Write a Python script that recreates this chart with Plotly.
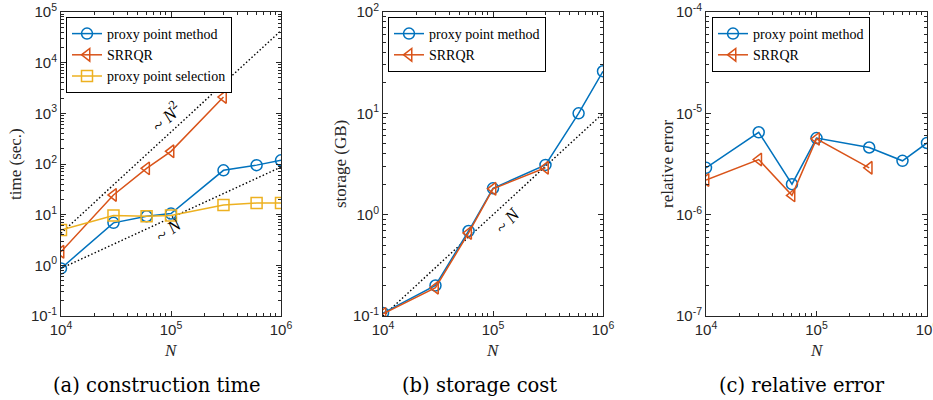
import plotly.graph_objects as go

# ---------------- data ----------------
N_all = [1e4, 3e4, 6e4, 1e5, 3e5, 6e5, 1e6]
N_srrqr = [1e4, 3e4, 6e4, 1e5, 3e5]

time_proxy = [0.87, 6.9, 9.3, 10.5, 75, 95, 118]
time_srrqr = [1.85, 24.5, 82, 178, 2100]
time_select = [5.0, 9.6, 9.3, 9.6, 15.5, 17, 17]

storage_proxy = [0.107, 0.20, 0.69, 1.82, 3.1, 10, 26]
storage_srrqr = [0.105, 0.19, 0.66, 1.80, 2.9]

err_proxy = [2.9e-6, 6.5e-6, 2.0e-6, 5.7e-6, 4.6e-6, 3.4e-6, 5.1e-6]
err_srrqr = [2.2e-6, 3.5e-6, 1.55e-6, 5.6e-6, 2.9e-6]

ref_N = [1e4, 1e6]
ref_time_N2 = [4.3, 4.3e4]
ref_time_N = [0.87, 87]
ref_storage_N = [0.1, 10]

captions = ["(a) construction time", "(b) storage cost", "(c) relative error"]
ylabels = ["time (sec.)", "storage (GB)", "relative error"]
x_exps = [4, 5, 6]
y_exps = [[-1, 0, 1, 2, 3, 4, 5], [-1, 0, 1, 2], [-7, -6, -5, -4]]
# --------------------------------------

BLUE = "#0072BD"
ORANGE = "#D95319"
YELLOW = "#EDB120"
AX = "#262626"
SERIF = "DejaVu Serif"
LSERIF = "Liberation Serif"
SANS = "Liberation Sans"

W, H = 933, 400
T, B = 12, 84
PH = H - T - B

fig = go.Figure()

xdomains = [(61 / W, 281 / W), (383 / W, 603 / W), (706 / W, 927 / W)]
caption_x = [157, 479, 802]


def add(x, y, name, color, symbol, axis, legend):
    fig.add_trace(go.Scatter(
        x=x, y=y, name=name, mode="lines+markers",
        line=dict(color=color, width=1.5),
        marker=dict(symbol=symbol, size=11, color=color,
                    line=dict(color=color, width=1.5)),
        xaxis="x" + axis, yaxis="y" + axis, legend=legend))


def ref(x, y, axis):
    fig.add_trace(go.Scatter(
        x=x, y=y, mode="lines", line=dict(color="black", width=1.4, dash="1.5px,2.2px"),
        xaxis="x" + axis, yaxis="y" + axis, showlegend=False, hoverinfo="skip"))


ref(ref_N, ref_time_N2, "")
ref(ref_N, ref_time_N, "")
add(N_all, time_proxy, "proxy point method", BLUE, "circle-open", "", "legend")
add(N_srrqr, time_srrqr, "SRRQR", ORANGE, "triangle-left-open", "", "legend")
add(N_all, time_select, "proxy point selection", YELLOW, "square-open", "", "legend")

ref(ref_N, ref_storage_N, "2")
add(N_all, storage_proxy, "proxy point method", BLUE, "circle-open", "2", "legend2")
add(N_srrqr, storage_srrqr, "SRRQR", ORANGE, "triangle-left-open", "2", "legend2")

add(N_all, err_proxy, "proxy point method", BLUE, "circle-open", "3", "legend3")
add(N_srrqr, err_srrqr, "SRRQR", ORANGE, "triangle-left-open", "3", "legend3")


def decade_ticks(exps):
    vals = [10.0 ** e for e in exps]
    text = ["10<sup>%d</sup>" % e for e in exps]
    minor = [m * 10.0 ** e for e in exps[:-1] for m in range(2, 10)]
    return vals, text, minor


axcommon = dict(
    type="log", showline=True, linecolor=AX, linewidth=1, mirror="allticks",
    ticks="inside", ticklen=5, tickcolor=AX, tickwidth=1, showgrid=False,
    zeroline=False, automargin=False, tickmode="array",
    tickfont=dict(family=SANS, size=15, color=AX),
)

layout = dict(
    width=W, height=H, margin=dict(l=0, r=0, t=T, b=B),
    plot_bgcolor="white", paper_bgcolor="white", showlegend=True,
)
for i, suf in enumerate(["", "2", "3"]):
    xv, xt, xm = decade_ticks(x_exps)
    yv, yt, ym = decade_ticks(y_exps[i])
    xa = dict(axcommon, domain=list(xdomains[i]), range=[4, 6],
              anchor="y" + suf, tickvals=xv, ticktext=xt,
              ticklabeloverflow="allow",
              minor=dict(ticks="inside", ticklen=3, tickcolor=AX, tickmode="array",
                         tickvals=xm, showgrid=False))
    ya = dict(axcommon, domain=[0, 1], range=[y_exps[i][0], y_exps[i][-1]],
              anchor="x" + suf, tickvals=yv, ticktext=yt,
              minor=dict(ticks="inside", ticklen=3, tickcolor=AX, tickmode="array",
                         tickvals=ym, showgrid=False))
    layout["xaxis" + suf] = xa
    layout["yaxis" + suf] = ya

leg = dict(bgcolor="white", bordercolor="black", borderwidth=1,
           font=dict(family=LSERIF, size=14, color="black"),
           xref="paper", yref="paper", xanchor="left", yanchor="top",
           tracegroupgap=0, itemwidth=30)
layout["legend"] = dict(leg, x=66 / W, y=(PH - 5) / PH)
layout["legend2"] = dict(leg, x=388 / W, y=(PH - 5) / PH)
layout["legend3"] = dict(leg, x=712 / W, y=(PH - 5) / PH)

fig.update_layout(**layout)

anns = []
ycap = (T + PH - 385) / PH
yN = (T + PH - 350) / PH
ylab_x = [15, 340, 667]
for i in range(3):
    cx = (xdomains[i][0] + xdomains[i][1]) / 2
    anns.append(dict(text=captions[i], x=caption_x[i] / W, y=ycap, xref="paper", yref="paper",
                     xanchor="center", yanchor="middle",
                     showarrow=False, font=dict(family=SERIF, size=19.5, color="black")))
    anns.append(dict(text="<i>N</i>", x=cx, y=yN, xref="paper", yref="paper",
                     xanchor="center", yanchor="middle",
                     showarrow=False, font=dict(family=LSERIF, size=17, color=AX)))
    anns.append(dict(text=ylabels[i], x=ylab_x[i] / W, y=0.5, xref="paper", yref="paper",
                     xanchor="center", yanchor="middle",
                     textangle=-90, showarrow=False,
                     font=dict(family=LSERIF, size=17, color=AX)))

anns.append(dict(text="~ <i>N</i><sup>2</sup>", x=4.96, y=2.93, xref="x", yref="y",
                 textangle=-42, showarrow=False, font=dict(family=LSERIF, size=18, color="black")))
anns.append(dict(text="~ <i>N</i>", x=4.98, y=0.70, xref="x", yref="y",
                 textangle=-36, showarrow=False, font=dict(family=LSERIF, size=18, color="black")))
anns.append(dict(text="~ <i>N</i>", x=5.13, y=-0.06, xref="x2", yref="y2",
                 textangle=-48, showarrow=False, font=dict(family=LSERIF, size=18, color="black")))
fig.update_layout(annotations=anns)

fig.write_html("out.html")
